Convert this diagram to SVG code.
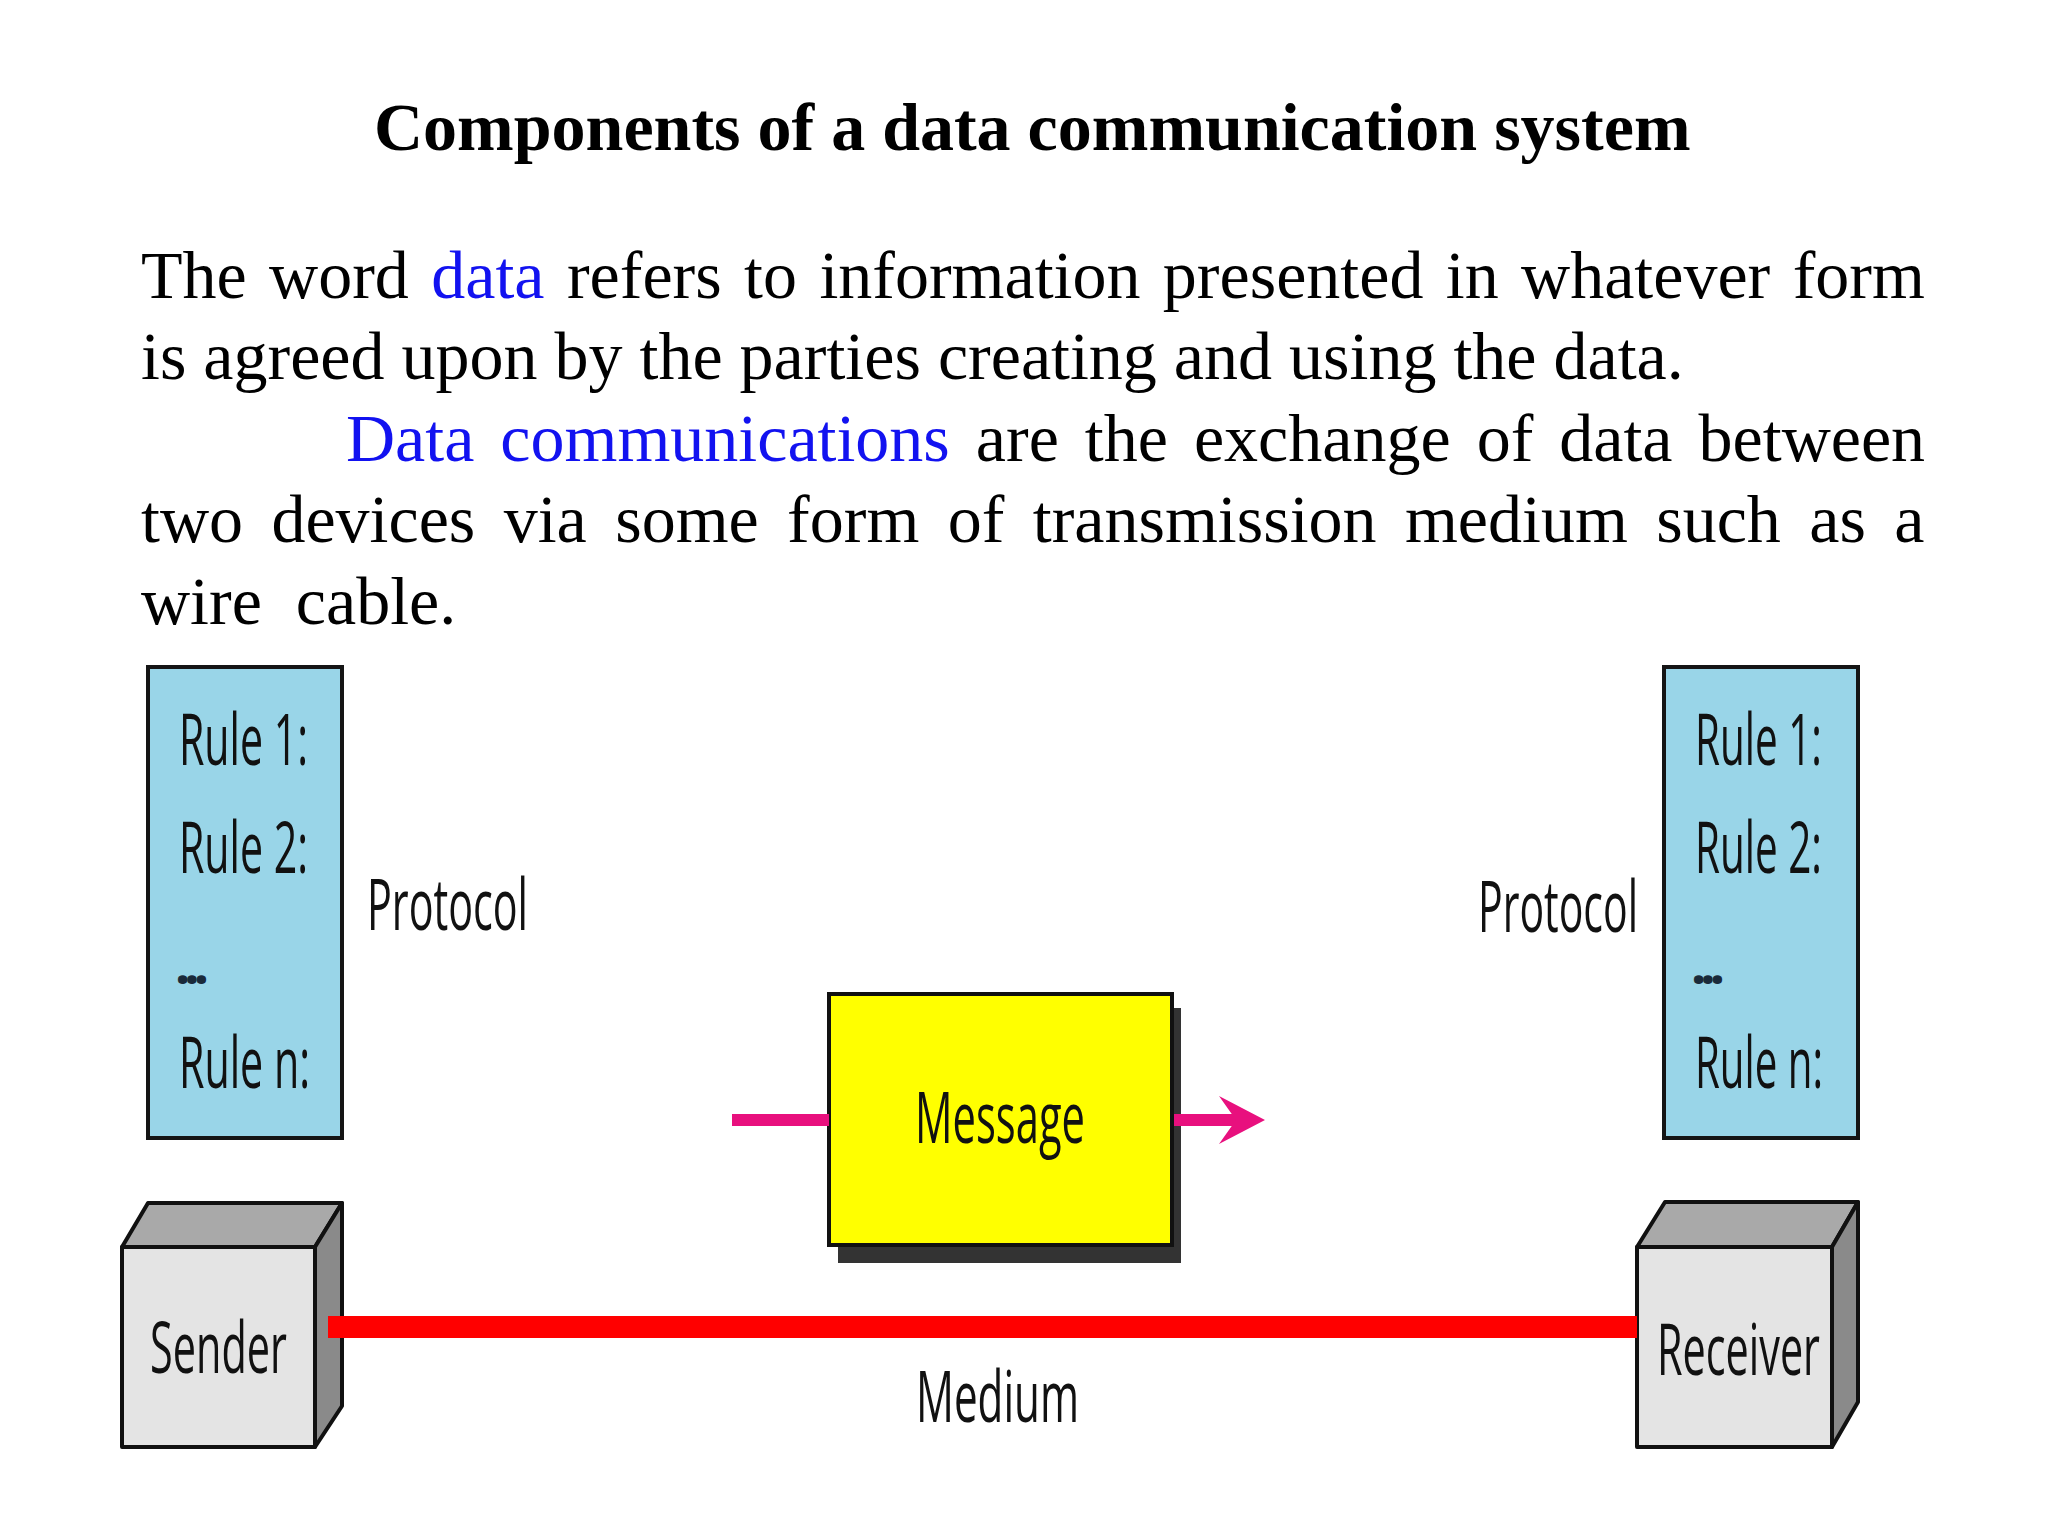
<svg xmlns="http://www.w3.org/2000/svg" width="2048" height="1536" viewBox="0 0 2048 1536">
  <style>
    .serif { font-family: "Liberation Serif", "Times New Roman", serif; fill: #000; }
    .title { font-size: 68px; font-weight: bold; }
    .para { font-size: 68px; }
    .blue { fill: #1212F0; }
    .lbl { font-family: "Open Sans", "DejaVu Sans", sans-serif; font-size: 72px; fill: #111; }
    .dots { font-family: "Open Sans", "DejaVu Sans", sans-serif; font-size: 46px; font-weight: 800; fill: #1a2a3a; }
    .rules { fill: #99D5E8; stroke: #151515; stroke-width: 4; }
    .msg { fill: #FFFF00; stroke: #111; stroke-width: 4; }
    .shadow { fill: #333; }
    .front { fill: #E4E4E4; stroke: #111; stroke-width: 4; stroke-linejoin: round; }
    .top { fill: #A9A9A9; stroke: #111; stroke-width: 4; stroke-linejoin: round; }
    .side { fill: #8A8A8A; stroke: #111; stroke-width: 4; stroke-linejoin: round; }
    .pink { fill: #E8107E; }
  </style>
  <rect x="0" y="0" width="2048" height="1536" fill="#FFFFFF"/>

  <g id="heading">
    <text class="serif title" x="374" y="150">Components of a data communication system</text>
  </g>

  <g id="paragraph" class="serif para">
    <text x="141" y="298" word-spacing="5.4">The word <tspan class="blue">data</tspan> refers to information presented in whatever form</text>
    <text x="141" y="379">is agreed upon by the parties creating and using the data.</text>
    <text x="346" y="461" word-spacing="9"><tspan class="blue">Data communications</tspan> are the exchange of data between</text>
    <text x="141" y="542" word-spacing="11.4">two devices via some form of transmission medium such as a</text>
    <text x="141" y="624" xml:space="preserve">wire  cable.</text>
  </g>

  <g id="sender-protocol">
    <rect class="rules" x="148" y="667" width="194" height="471"/>
    <text class="lbl" x="179" y="765" textLength="129" lengthAdjust="spacingAndGlyphs">Rule 1:</text>
    <text class="lbl" x="179" y="873" textLength="129" lengthAdjust="spacingAndGlyphs">Rule 2:</text>
    <text class="dots" x="176" y="984" textLength="32" lengthAdjust="spacing">...</text>
    <text class="lbl" x="179" y="1088" textLength="131" lengthAdjust="spacingAndGlyphs">Rule n:</text>
    <text class="lbl" x="367" y="930" textLength="161" lengthAdjust="spacingAndGlyphs">Protocol</text>
  </g>

  <g id="receiver-protocol">
    <rect class="rules" x="1664" y="667" width="194" height="471"/>
    <text class="lbl" x="1695" y="765" textLength="127" lengthAdjust="spacingAndGlyphs">Rule 1:</text>
    <text class="lbl" x="1695" y="873" textLength="127" lengthAdjust="spacingAndGlyphs">Rule 2:</text>
    <text class="dots" x="1692" y="984" textLength="32" lengthAdjust="spacing">...</text>
    <text class="lbl" x="1695" y="1088" textLength="128" lengthAdjust="spacingAndGlyphs">Rule n:</text>
    <text class="lbl" x="1478" y="932" textLength="160" lengthAdjust="spacingAndGlyphs">Protocol</text>
  </g>

  <g id="message">
    <rect class="shadow" x="838" y="1008" width="343" height="255"/>
    <rect class="msg" x="829" y="994" width="343" height="251"/>
    <text class="lbl" x="915" y="1143" font-size="75" textLength="170" lengthAdjust="spacingAndGlyphs">Message</text>
  </g>

  <g id="sender">
    <path class="top" d="M122,1247 L148,1203 L342,1203 L315,1247 Z"/>
    <path class="side" d="M315,1247 L342,1203 L342,1406 L315,1447 Z"/>
    <rect class="front" x="122" y="1247" width="193" height="200"/>
    <text class="lbl" x="150" y="1373" font-size="75" textLength="137" lengthAdjust="spacingAndGlyphs">Sender</text>
  </g>

  <g id="receiver">
    <path class="top" d="M1637,1247 L1665,1202 L1858,1202 L1832,1247 Z"/>
    <path class="side" d="M1832,1247 L1858,1202 L1858,1402 L1832,1447 Z"/>
    <rect class="front" x="1637" y="1247" width="195" height="200"/>
    <text class="lbl" x="1657" y="1375" font-size="75" textLength="163" lengthAdjust="spacingAndGlyphs">Receiver</text>
  </g>

  <g id="medium-label">
    <text class="lbl" x="916" y="1422" textLength="163" lengthAdjust="spacingAndGlyphs">Medium</text>
  </g>

  <g id="connectors">
    <rect id="medium-line" x="328" y="1316" width="1309" height="22" fill="#FF0000"/>
    <rect id="msg-in" class="pink" x="732" y="1114" width="97" height="12"/>
    <rect id="msg-out-line" class="pink" x="1174" y="1114" width="62" height="12"/>
    <path id="msg-out-head" class="pink" d="M1265,1120 L1219,1096 L1236,1120 L1219,1144 Z"/>
  </g>
</svg>
